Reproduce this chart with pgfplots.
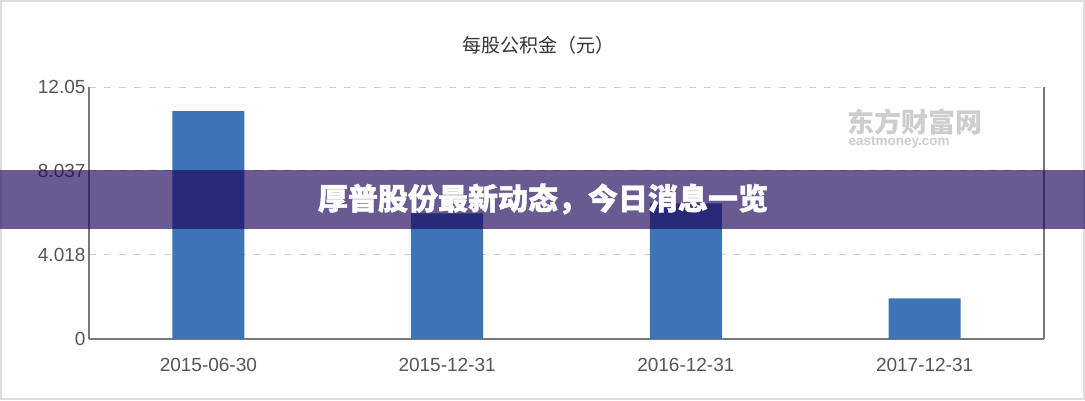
\documentclass[border=0pt]{standalone}
\usepackage{pgfplots}
\pgfplotsset{compat=1.18}
\usepackage{fontspec}
\setmainfont{Liberation Sans}
\newfontfamily\cjk{Noto Sans CJK SC}
\newfontfamily\cjkheavy{Noto Sans CJK SC}[FakeBold=1.5]
\definecolor{barblue}{RGB}{61,116,182}
\definecolor{axgray}{RGB}{120,120,120}
\definecolor{gridgray}{RGB}{205,205,205}
\definecolor{txtgray}{RGB}{85,85,85}
\definecolor{titlegray}{RGB}{51,51,51}
\definecolor{bandc}{RGB}{26,3,89}
\definecolor{wm}{RGB}{205,205,205}
\definecolor{frame}{RGB}{222,222,222}
\begin{document}
\begin{tikzpicture}[x=1pt,y=1pt]
\path[use as bounding box] (0,0) rectangle (1085,400);
\fill[white] (0,0) rectangle (1085,400);
\draw[frame, line width=2pt] (1,1) rectangle (1084,399);
\node[titlegray, font=\cjk\fontsize{19}{21}\selectfont] at (538,355) {每股公积金（元）};
\node[wm, font=\cjk\bfseries\fontsize{27}{28}\selectfont, anchor=west] at (844,278) {东方财富网};
\node[wm, font=\bfseries\fontsize{13.5}{14}\selectfont, anchor=west] at (845,258) {eastmoney.com};
\begin{axis}[
  at={(89pt,61pt)}, anchor=south west,
  scale only axis, width=955pt, height=252pt,
  xmin=-0.5, xmax=3.5, ymin=0, ymax=12.05,
  ytick={0,4.018,8.037,12.05},
  yticklabels={0,4.018,8.037,12.05},
  xtick={0,1,2,3},
  xticklabels={2015-06-30,2015-12-31,2016-12-31,2017-12-31},
  major tick length=0pt,
  axis x line*=bottom, axis y line*=left,
  axis line style={-, draw=axgray, line width=1.3pt},
  every outer x axis line/.append style={-},
  every outer y axis line/.append style={-},
  ymajorgrids,
  grid style={draw=gridgray, line width=1pt, dash pattern=on 7pt off 8pt},
  tick label style={font=\fontsize{19}{21}\selectfont, text=txtgray},
  xticklabel style={yshift=-16pt},
  yticklabel style={xshift=0pt},
  /pgf/number format/assume math mode=true,
  clip=false,
]
\addplot[ybar, bar width=72pt, fill=barblue, draw=none] coordinates {
  (0,10.9) (1,6.01) (2,6.49) (3,1.94)
};
\draw[axgray, line width=1.3pt] (rel axis cs:1,0) -- (rel axis cs:1,1);
\end{axis}
\fill[bandc, fill opacity=0.65] (0,171) rectangle (1085,230);
\node[white, font=\cjkheavy\bfseries\fontsize{30}{32}\selectfont] at (543,201) {厚普股份最新动态，今日消息一览};
\end{tikzpicture}
\end{document}
